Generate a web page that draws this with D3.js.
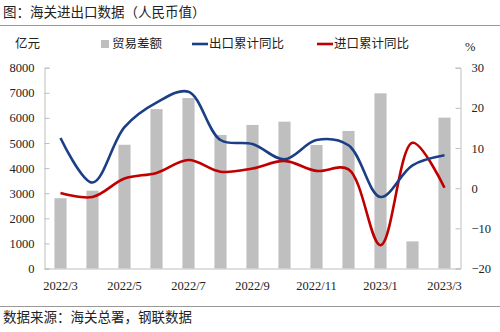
<!DOCTYPE html>
<html><head><meta charset="utf-8">
<script src="https://cdn.jsdelivr.net/npm/d3@7"></script>
<style>
body{margin:0;background:#fff;}
svg{display:block;}
</style></head>
<body>
<svg id="c" width="500" height="332"></svg>
<script>
const categories = ["2022/3","2022/4","2022/5","2022/6","2022/7","2022/8","2022/9","2022/10","2022/11","2022/12","2023/1","2023/2","2023/3"];
const tradeBalance = [2800,3100,4930,6350,6790,5320,5720,5850,4920,5480,6980,1080,6010];
const exportYoY = [12.5,1.4,15.2,21.3,24.0,12.0,11.0,7.2,12.0,10.7,-2.2,5.7,8.2];
const importYoY = [-1.2,-2.2,2.4,3.8,7.0,4.1,4.9,6.8,4.3,4.7,-14.2,11.3,0.1];
const leftTicks = [0,1000,2000,3000,4000,5000,6000,7000,8000];
const rightTicks = [-20,-10,0,10,20,30];
const xTickLabels = ["2022/3","2022/5","2022/7","2022/9","2022/11","2023/1","2023/3"];

(function(){
const svg = d3.select("#c");
const cjk = "'Noto Sans CJK SC', sans-serif";
const serif = "'Liberation Serif', 'Times New Roman', serif";
const pL = 44.5, pR = 460.5, pT = 67.7, pB = 268.5;

svg.append("text").attr("x",3).attr("y",17).style("font-family",cjk).style("font-size","13.5px").attr("fill","#222").text("图：海关进出口数据（人民币值）");
svg.append("line").attr("x1",0).attr("x2",500).attr("y1",25.5).attr("y2",25.5).attr("stroke","#999").attr("stroke-width",1);
svg.append("line").attr("x1",0).attr("x2",500).attr("y1",306.5).attr("y2",306.5).attr("stroke","#999").attr("stroke-width",1);
svg.append("text").attr("x",3).attr("y",322).style("font-family",cjk).style("font-size","13.5px").attr("fill","#222").text("数据来源：海关总署，钢联数据");

const x = d3.scaleBand().domain(categories).range([pL,pR]).paddingInner(0.62).paddingOuter(0.31);
const xc = d => x(d) + x.bandwidth()/2;
const yL = d3.scaleLinear().domain([0,8000]).range([pB,pT]);
const yR = d3.scaleLinear().domain([-20,30]).range([pB,pT]);

svg.append("g").selectAll("rect").data(categories).join("rect")
  .attr("x",d=>x(d)).attr("width",x.bandwidth())
  .attr("y",(d,i)=>yL(tradeBalance[i])).attr("height",(d,i)=>yL(0)-yL(tradeBalance[i]))
  .attr("fill","#BFBFBF");

const gl = svg.append("g").attr("transform",`translate(${pL},0)`)
  .call(d3.axisLeft(yL).tickValues(leftTicks).tickSize(-5).tickPadding(10).tickFormat(d3.format("d")));
const gr = svg.append("g").attr("transform",`translate(${pR},0)`)
  .call(d3.axisRight(yR).tickValues(rightTicks).tickSize(-5).tickPadding(11).tickFormat(d3.format("d")));
const gb = svg.append("g").attr("transform",`translate(0,${pB})`)
  .call(d3.axisBottom(x).tickValues(xTickLabels).tickSize(0).tickPadding(13));
[gl,gr,gb].forEach(g=>{
  g.selectAll("path").attr("stroke","#BFBFBF");
  g.selectAll("line").attr("stroke","#BFBFBF");
  g.selectAll("text").style("font-family",serif).style("font-size","12.5px").attr("fill","#222");
});
gb.select("path").attr("d",`M${pL},0.5H${pR}`);

const line = arr => d3.line().x((d,i)=>xc(categories[i])).y(d=>yR(d)).curve(d3.curveCatmullRom.alpha(0.5))(arr);
svg.append("path").attr("d",line(importYoY)).attr("fill","none").attr("stroke","#C00000").attr("stroke-width",2.6);
svg.append("path").attr("d",line(exportYoY)).attr("fill","none").attr("stroke","#1B3F86").attr("stroke-width",2.6);

svg.append("text").attr("x",15).attr("y",48).style("font-family",cjk).style("font-size","12.5px").attr("fill","#222").text("亿元");
svg.append("text").attr("x",465).attr("y",51).style("font-family",serif).style("font-size","12.5px").attr("fill","#222").text("%");
svg.append("rect").attr("x",101).attr("y",40).attr("width",8).attr("height",8).attr("fill","#BFBFBF");
svg.append("text").attr("x",112).attr("y",48).style("font-family",cjk).style("font-size","12.5px").attr("fill","#222").text("贸易差额");
svg.append("line").attr("x1",192).attr("x2",208).attr("y1",44).attr("y2",44).attr("stroke","#1B3F86").attr("stroke-width",2.6);
svg.append("text").attr("x",209).attr("y",48).style("font-family",cjk).style("font-size","12.5px").attr("fill","#222").text("出口累计同比");
svg.append("line").attr("x1",317).attr("x2",333).attr("y1",44).attr("y2",44).attr("stroke","#C00000").attr("stroke-width",2.6);
svg.append("text").attr("x",334).attr("y",48).style("font-family",cjk).style("font-size","12.5px").attr("fill","#222").text("进口累计同比");
})();
</script>
</body></html>
